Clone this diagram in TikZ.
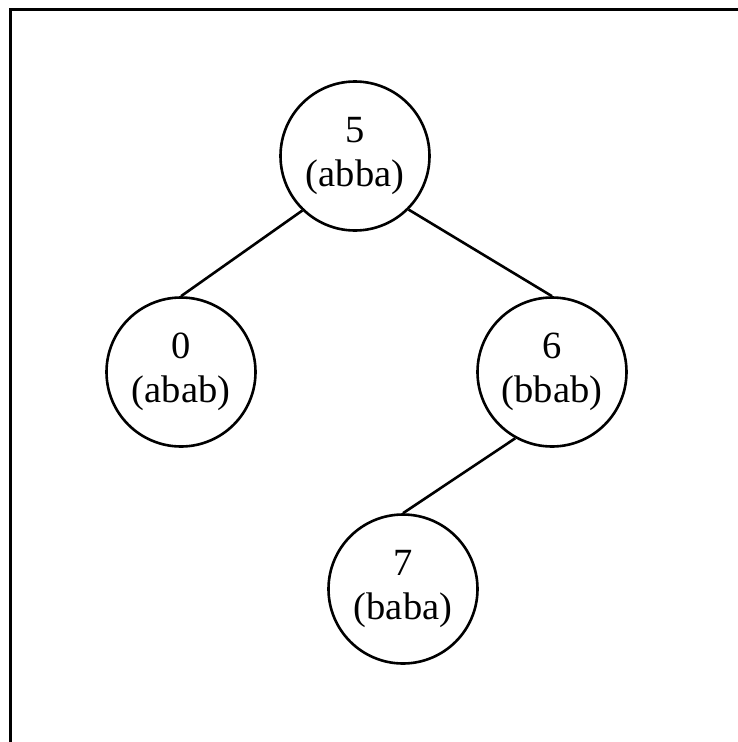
\documentclass[tikz,border=0pt]{standalone}
\usepackage{fontspec}
\setmainfont{Liberation Serif}
\begin{document}
\begin{tikzpicture}[x=1pt,y=-1pt,
  treenode/.style={draw, circle, line width=2.6pt, minimum size=149pt, inner sep=0pt, align=center, font=\fontsize{38.5}{44}\selectfont},
  edge/.style={line width=2.6pt}]
\useasboundingbox (0,0) rectangle (738,742);
\draw[line width=3pt] (10,742) -- (10,9) -- (738,9);
\node[treenode] (n5) at (355,156) {5\\(abba)};
\node[treenode] (n0) at (181,372) {0\\(abab)};
\node[treenode] (n6) at (552,372) {6\\(bbab)};
\node[treenode] (n7) at (403,589) {7\\(baba)};
\draw[edge] (n5.226) -- (n0.north);
\draw[edge] (n5.315) -- (n6.north);
\draw[edge] (n6.241) -- (n7.north);
\end{tikzpicture}
\end{document}
